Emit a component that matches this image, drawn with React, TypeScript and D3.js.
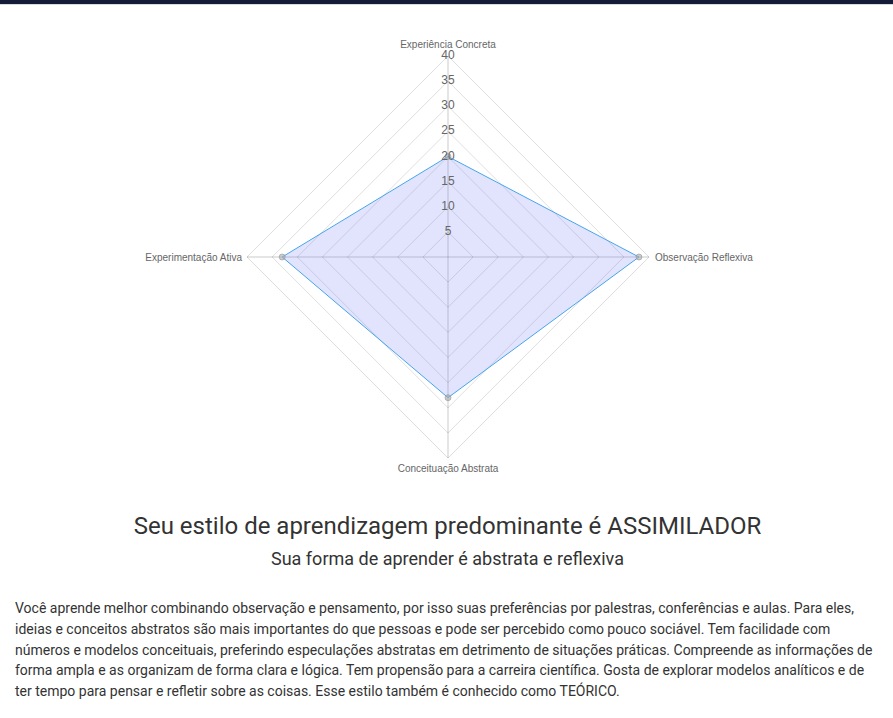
import React from "react";
import * as d3 from "d3";

const axes = ["Experiência Concreta", "Observação Reflexiva", "Conceituação Abstrata", "Experimentação Ativa"];
const values = [20, 38, 28, 33];
const ticks = [5, 10, 15, 20, 25, 30, 35, 40];
const title = "Seu estilo de aprendizagem predominante é ASSIMILADOR";
const subtitle = "Sua forma de aprender é abstrata e reflexiva";
const paragraph = [
  "Você aprende melhor combinando observação e pensamento, por isso suas preferências por palestras, conferências e aulas. Para eles,",
  "ideias e conceitos abstratos são mais importantes do que pessoas e pode ser percebido como pouco sociável. Tem facilidade com",
  "números e modelos conceituais, preferindo especulações abstratas em detrimento de situações práticas. Compreende as informações de",
  "forma ampla e as organizam de forma clara e lógica. Tem propensão para a carreira científica. Gosta de explorar modelos analíticos e de",
  "ter tempo para pensar e refletir sobre as coisas. Esse estilo também é conhecido como TEÓRICO.",
];

export default function App() {
  const W = 893, H = 718;
  const cx = 448, cy = 257, R = 201;
  const r = d3.scaleLinear().domain([0, 40]).range([0, R]);
  const angle = (i: number) => (i * 2 * Math.PI) / axes.length;
  const pt = (i: number, v: number): [number, number] => [
    cx + r(v) * Math.sin(angle(i)),
    cy - r(v) * Math.cos(angle(i)),
  ];
  const line = d3.line().curve(d3.curveLinearClosed);
  const dataPts = values.map((v, i) => pt(i, v));
  const font = "Roboto, 'Helvetica Neue', Arial, sans-serif";
  const labelFont = "'Helvetica Neue', Helvetica, Arial, 'Liberation Sans', sans-serif";

  const labelPos = (i: number) => {
    const [x, y] = pt(i, 40);
    if (i === 0) return { x, y: y - 8, anchor: "middle" };
    if (i === 1) return { x: x + 6, y: y + 3.5, anchor: "start" };
    if (i === 2) return { x, y: y + 14, anchor: "middle" };
    return { x: x - 5, y: y + 3.5, anchor: "end" };
  };

  return (
    <svg width={W} height={H} style={{ position: "absolute", left: 0, top: 0, background: "#fff" }} fontFamily={font}>
      <rect x={0} y={0} width={W} height={4} fill="#131b36" />
      <rect x={0} y={4} width={W} height={1} fill="#d5dde0" />
      {/* grid */}
      {ticks.map((t) => (
        <path key={"g" + t} d={line(axes.map((_, i) => pt(i, t))) || ""} fill="none" stroke="rgba(0,0,0,0.13)" strokeWidth={1} />
      ))}
      {axes.map((_, i) => {
        const [x, y] = pt(i, 40);
        return <line key={"a" + i} x1={cx} y1={cy} x2={x} y2={y} stroke="rgba(0,0,0,0.1)" strokeWidth={2} />;
      })}
      {/* data */}
      <path d={line(dataPts) || ""} fill="rgba(110,120,245,0.2)" stroke="#45a5ee" strokeWidth={1} />
      {dataPts.map(([x, y], i) => (
        <circle key={"p" + i} cx={x} cy={y} r={3} fill="rgba(170,170,170,0.6)" stroke="rgba(150,150,150,0.6)" strokeWidth={1} />
      ))}
      {/* tick labels */}
      {ticks.map((t) => (
        <text key={"t" + t} x={cx} y={cy - r(t) + 3} textAnchor="middle" fontSize={12} fill="#666" fontFamily={labelFont}>
          {t}
        </text>
      ))}
      {/* point labels */}
      {axes.map((a, i) => {
        const p = labelPos(i);
        return (
          <text key={"l" + i} x={p.x} y={p.y} textAnchor={p.anchor as any} fontSize={10} fill="#666" fontFamily={labelFont}>
            {a}
          </text>
        );
      })}
      <text x={W / 2 + 1} y={534} textAnchor="middle" fontSize={24} fill="#333">{title}</text>
      <text x={W / 2 + 1} y={565} textAnchor="middle" fontSize={18} fill="#333">{subtitle}</text>
      {paragraph.map((l, i) => (
        <text key={"para" + i} x={15} y={613 + i * 20.75} fontSize={14} fill="#333">{l}</text>
      ))}
    </svg>
  );
}
